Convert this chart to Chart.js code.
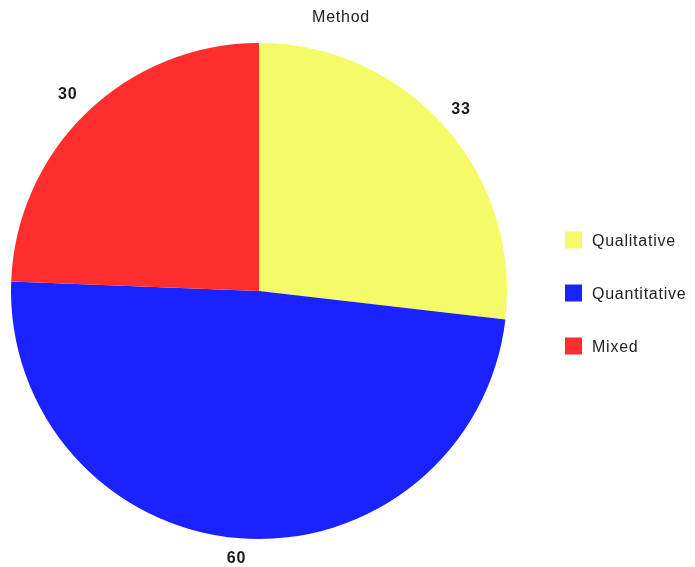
<!DOCTYPE html>
<html>
<head>
<meta charset="utf-8">
<style>
  html, body { margin: 0; padding: 0; background: #ffffff; }
  #wrap { width: 695px; height: 567px; position: relative; }
</style>
<script src="https://cdn.jsdelivr.net/npm/chart.js@4/dist/chart.umd.min.js"></script>
</head>
<body>
<div id="wrap"><canvas id="chart" width="695" height="567"></canvas></div>
<script>
const chartTitle = 'Method';
const categories = ['Qualitative', 'Quantitative', 'Mixed'];
const counts = [33, 60, 30];
const sliceColors = ['#f4fb66', '#1a22ff', '#ff2e2e'];

const FONT = '"Liberation Sans", Arial, Helvetica, sans-serif';
const SPACING = '0.75px';

// Title, right-hand legend and outside value labels
const decorations = {
  id: 'decorations',
  afterDraw(chart) {
    const ctx = chart.ctx;
    ctx.save();
    if ('letterSpacing' in ctx) ctx.letterSpacing = SPACING;

    // title
    ctx.fillStyle = '#222222';
    ctx.font = '16px ' + FONT;
    ctx.textAlign = 'center';
    ctx.textBaseline = 'middle';
    ctx.fillText(chartTitle, 341, 18);

    // legend
    const items = chart.legend.legendItems || [];
    const lx = 565, ly0 = 240, step = 53, box = 17;
    items.forEach((it, i) => {
      const cy = ly0 + i * step;
      ctx.fillStyle = it.fillStyle;
      ctx.fillRect(lx, cy - box / 2, box, box);
      ctx.fillStyle = '#222222';
      ctx.font = '16px ' + FONT;
      ctx.textAlign = 'left';
      ctx.textBaseline = 'middle';
      ctx.fillText(it.text, lx + 27, cy + 2);
    });

    // value labels just outside each slice
    const meta = chart.getDatasetMeta(0);
    ctx.font = 'bold 16px ' + FONT;
    ctx.fillStyle = '#1a1a1a';
    ctx.textAlign = 'center';
    ctx.textBaseline = 'middle';
    meta.data.forEach((arc, i) => {
      const p = arc.getProps(['x', 'y', 'startAngle', 'endAngle', 'outerRadius'], true);
      const mid = (p.startAngle + p.endAngle) / 2;
      const dx = Math.cos(mid), dy = Math.sin(mid);
      const txt = String(chart.data.datasets[0].data[i]);
      const w = ctx.measureText(txt).width, h = 12;
      const ext = Math.abs(dx) * w / 2 + Math.abs(dy) * h / 2;
      const dist = p.outerRadius + 14 + ext;
      ctx.fillText(txt, p.x + dx * dist - 2, p.y + dy * dist);
    });

    ctx.restore();
  }
};

new Chart(document.getElementById('chart'), {
  type: 'pie',
  data: {
    labels: categories,
    datasets: [{
      data: counts,
      backgroundColor: sliceColors,
      borderWidth: 0
    }]
  },
  options: {
    responsive: false,
    animation: false,
    layout: { padding: { left: 11, right: 188, top: 43, bottom: 28 } },
    plugins: {
      legend: { display: false },
      title: { display: false },
      tooltip: { enabled: false }
    }
  },
  plugins: [decorations]
});
</script>
</body>
</html>
